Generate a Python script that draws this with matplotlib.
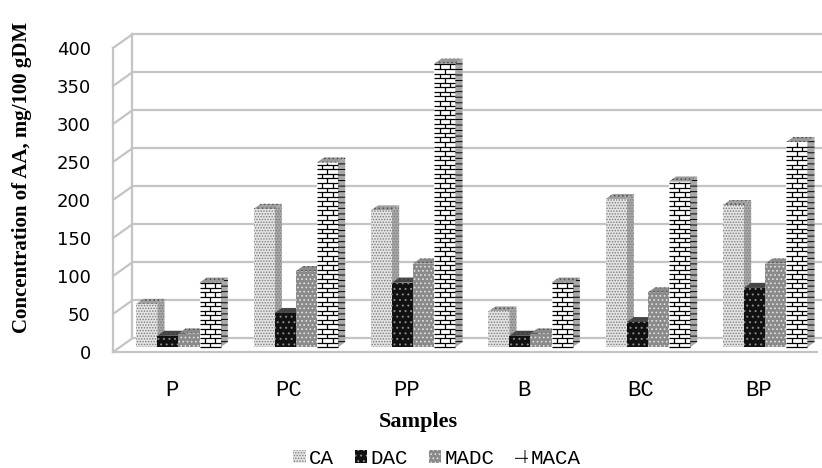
import matplotlib
matplotlib.use("Agg")
import matplotlib.pyplot as plt
from matplotlib.patches import Polygon, Rectangle, Patch
from matplotlib.collections import LineCollection

samples = ["P", "PC", "PP", "B", "BC", "BP"]
series = ["CA", "DAC", "MADC", "MACA"]
ca = [57, 182, 180, 47, 195, 187]
dac = [15, 45, 85, 15, 33, 78]
madc = [18, 100, 110, 18, 72, 110]
maca = [85, 243, 373, 85, 218, 270]
yticks = [0, 50, 100, 150, 200, 250, 300, 350, 400]

# front face, hatch colour, side face, top face, hatch
styles = {
    "CA": ("#e4e4e4", "#7c7c7c", "#a8a8a8", "#a0a0a0", "......"),
    "DAC": ("#111111", "#8a8a8a", "#222222", "#444444", "..."),
    "MADC": ("#8a8a8a", "#e2e2e2", "#6a6a6a", "#8c8c8c", "...."),
    "MACA": ("#ffffff", "#000000", "#a8a8a8", "#9a9a9a", ""),
}

plt.rcParams["hatch.linewidth"] = 0.7
GRID = "#c4c4c4"

# depth of the 3d box in data units, bar placement within it
DX, DY = 0.165, 18.0
F0, FD = 0.35, 0.37
W = 0.18

fig = plt.figure(figsize=(8.22, 4.68), dpi=100)
ax = fig.add_axes([113 / 822, 116 / 468, 704 / 822, 0.76 * 420 / 468])
ax.set_xlim(0, 6)
ax.set_ylim(0, 420)
for s in ax.spines.values():
    s.set_visible(False)

# walls and floor
for v in yticks:
    ax.plot([DX, 6 + DX], [v + DY, v + DY], color=GRID, lw=1.6, zorder=1, clip_on=False)
    ax.plot([0, DX], [v, v + DY], color=GRID, lw=1.6, zorder=1, clip_on=False)
ax.plot([0, 0], [0, 400], color=GRID, lw=1.6, zorder=1, clip_on=False)
ax.plot([DX, DX], [DY, 400 + DY], color=GRID, lw=1.6, zorder=1, clip_on=False)
ax.plot([0, 6], [0, 0], color=GRID, lw=1.6, zorder=1, clip_on=False)


def brick_segments(x0, w, b, top, row=6.0):
    segs = []
    y, j = b, 0
    while y < top - 0.5:
        y1 = min(y + row, top)
        segs.append([(x0, y), (x0 + w, y)])
        for fr in ((0.25, 0.75) if j % 2 else (0.5,)):
            segs.append([(x0 + w * fr, y), (x0 + w * fr, y1)])
        y, j = y1, j + 1
    return segs


z = 2
for k in range(len(samples)):
    for i, (name, vals) in enumerate(zip(series, [ca, dac, madc, maca])):
        front, hc, side, topc, hatch = styles[name]
        v = vals[k]
        x0 = k + (1 - 4 * W) / 2 + i * W + F0 * DX
        x1 = x0 + W
        b = F0 * DY
        t = v + b
        dx, dy = FD * DX, FD * DY
        ax.add_patch(Polygon([(x1, b), (x1 + dx, b + dy), (x1 + dx, t + dy), (x1, t)],
                             facecolor=side, edgecolor=hc, lw=0,
                             hatch="---" if name == "MACA" else hatch,
                             zorder=z, clip_on=False))
        ax.add_patch(Polygon([(x0, t), (x1, t), (x1 + dx, t + dy), (x0 + dx, t + dy)],
                             facecolor=topc, edgecolor="#555555", lw=0, hatch="....",
                             zorder=z, clip_on=False))
        ax.add_patch(Rectangle((x0, b), W, v, facecolor=front, edgecolor=hc, lw=0,
                               hatch=hatch or None, zorder=z + 1, clip_on=False))
        if name == "MACA":
            ax.add_collection(LineCollection(brick_segments(x0, W, b, t), colors="black",
                                             linewidths=0.9, zorder=z + 2))
        z += 3

ax.set_yticks(yticks)
ax.set_yticklabels([str(v) for v in yticks], fontsize=13, family="DejaVu Sans")
ax.set_xticks([k + 0.5 for k in range(len(samples))])
ax.set_xticklabels(samples, fontsize=16, family="Liberation Mono")
ax.tick_params(axis="y", length=0, pad=16)
ax.tick_params(axis="x", length=0, pad=20)

fig.text(0.027, 1 - 177 / 468, "Concentration of AA, mg/100 gDM", rotation=90,
         ha="center", va="center", fontsize=15, fontweight="bold", family="Liberation Serif")
fig.text(418 / 822, 1 - 422 / 468, "Samples", ha="center", va="center",
         fontsize=16, fontweight="bold", family="Liberation Serif")

handles = []
for name in series:
    front, hc, side, topc, hatch = styles[name]
    handles.append(Patch(facecolor=front, edgecolor=hc, lw=0, hatch=hatch or "+"))
fig.legend(handles, series, loc="center", bbox_to_anchor=(437 / 822, 1 - 458 / 468),
           ncol=4, frameon=False, prop={"family": "Liberation Mono", "size": 15},
           handlelength=0.6, handleheight=0.6, handletextpad=0.15, columnspacing=1.0)

fig.savefig("out.png", dpi=100)
